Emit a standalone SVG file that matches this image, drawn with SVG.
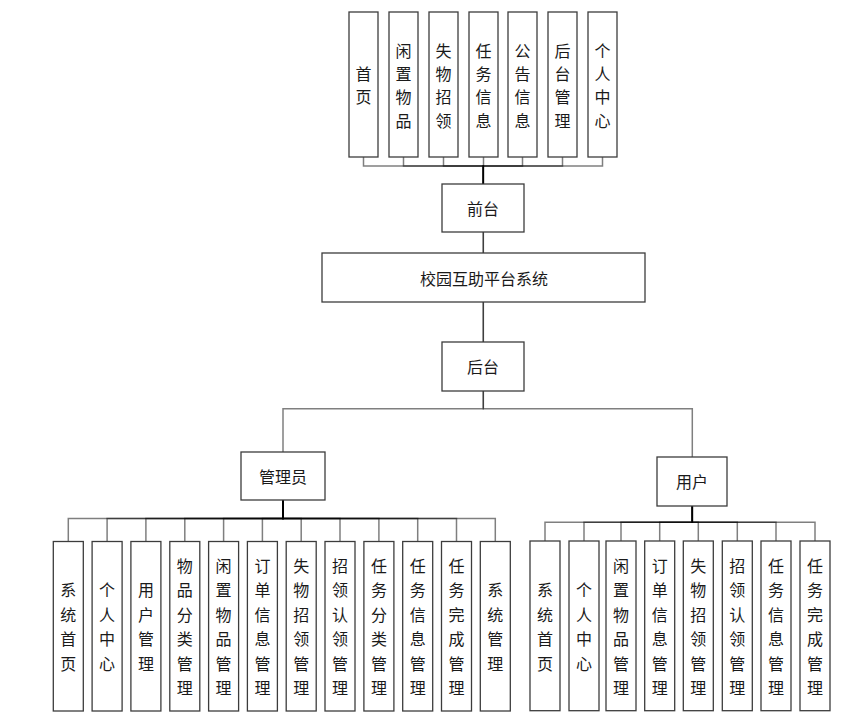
<svg xmlns="http://www.w3.org/2000/svg" width="862" height="728" viewBox="0 0 862 728">
<style>
.box{fill:#fff;stroke:#3c3c3c;stroke-width:1.3}
.t{font-family:"Noto Sans CJK SC","Noto Sans",sans-serif;font-size:16px;fill:#1a1a1a;text-anchor:middle;dominant-baseline:central}
.c{fill:none;stroke:#000;stroke-opacity:0.5;stroke-width:1.5}
</style>
<rect width="862" height="728" fill="#fff"/>
<g id="connectors">
<path class="c" d="M363.5,157V166H483.3V184"/>
<path class="c" d="M403.5,157V166H483.3V184"/>
<path class="c" d="M443.5,157V166H483.3V184"/>
<path class="c" d="M483.5,157V166H483.3V184"/>
<path class="c" d="M522.5,157V166H483.3V184"/>
<path class="c" d="M562.5,157V166H483.3V184"/>
<path class="c" d="M602.5,157V166H483.3V184"/>
<path class="c" d="M483.3,232V253"/>
<path class="c" d="M483.3,232V253"/>
<path class="c" d="M483.3,302V342"/>
<path class="c" d="M483.3,302V342"/>
<path class="c" d="M483.3,391V408.8H283V452"/>
<path class="c" d="M483.3,391V408.8H692.3V457"/>
<path class="c" d="M283,500.3V518.5H68.3V541.5"/>
<path class="c" d="M283,500.3V518.5H107.1V541.5"/>
<path class="c" d="M283,500.3V518.5H145.9V541.5"/>
<path class="c" d="M283,500.3V518.5H184.8V541.5"/>
<path class="c" d="M283,500.3V518.5H223.6V541.5"/>
<path class="c" d="M283,500.3V518.5H262.4V541.5"/>
<path class="c" d="M283,500.3V518.5H301.2V541.5"/>
<path class="c" d="M283,500.3V518.5H340.0V541.5"/>
<path class="c" d="M283,500.3V518.5H378.9V541.5"/>
<path class="c" d="M283,500.3V518.5H417.7V541.5"/>
<path class="c" d="M283,500.3V518.5H456.5V541.5"/>
<path class="c" d="M283,500.3V518.5H495.3V541.5"/>
<path class="c" d="M692.3,506V522.3H545V541"/>
<path class="c" d="M692.3,506V522.3H584V541"/>
<path class="c" d="M692.3,506V522.3H621V541"/>
<path class="c" d="M692.3,506V522.3H659.7V541"/>
<path class="c" d="M692.3,506V522.3H698.3V541"/>
<path class="c" d="M692.3,506V522.3H737.3V541"/>
<path class="c" d="M692.3,506V522.3H776V541"/>
<path class="c" d="M692.3,506V522.3H815V541"/>
</g>
<g id="top-nodes">
<g id="n-shouye"><rect class="box" x="349" y="12" width="29" height="145"/><text class="t"><tspan x="363.5" y="72.8">首</tspan><tspan x="363.5" y="96.2">页</tspan></text></g>
<g id="n-xianzhi"><rect class="box" x="389" y="12" width="29" height="145"/><text class="t"><tspan x="403.5" y="49.5">闲</tspan><tspan x="403.5" y="72.8">置</tspan><tspan x="403.5" y="96.2">物</tspan><tspan x="403.5" y="119.5">品</tspan></text></g>
<g id="n-shiwu"><rect class="box" x="429" y="12" width="29" height="145"/><text class="t"><tspan x="443.5" y="49.5">失</tspan><tspan x="443.5" y="72.8">物</tspan><tspan x="443.5" y="96.2">招</tspan><tspan x="443.5" y="119.5">领</tspan></text></g>
<g id="n-renwu"><rect class="box" x="469" y="12" width="29" height="145"/><text class="t"><tspan x="483.5" y="49.5">任</tspan><tspan x="483.5" y="72.8">务</tspan><tspan x="483.5" y="96.2">信</tspan><tspan x="483.5" y="119.5">息</tspan></text></g>
<g id="n-gonggao"><rect class="box" x="508" y="12" width="29" height="145"/><text class="t"><tspan x="522.5" y="49.5">公</tspan><tspan x="522.5" y="72.8">告</tspan><tspan x="522.5" y="96.2">信</tspan><tspan x="522.5" y="119.5">息</tspan></text></g>
<g id="n-houtaiguanli"><rect class="box" x="548" y="12" width="29" height="145"/><text class="t"><tspan x="562.5" y="49.5">后</tspan><tspan x="562.5" y="72.8">台</tspan><tspan x="562.5" y="96.2">管</tspan><tspan x="562.5" y="119.5">理</tspan></text></g>
<g id="n-geren"><rect class="box" x="588" y="12" width="29" height="145"/><text class="t"><tspan x="602.5" y="49.5">个</tspan><tspan x="602.5" y="72.8">人</tspan><tspan x="602.5" y="96.2">中</tspan><tspan x="602.5" y="119.5">心</tspan></text></g>
</g>
<g id="n-qiantai"><rect class="box" x="442" y="184" width="82" height="48"/><text class="t" x="483" y="208">前台</text></g>
<g id="n-system"><rect class="box" x="322" y="253" width="323" height="49"/><text class="t" x="484" y="278">校园互助平台系统</text></g>
<g id="n-houtai"><rect class="box" x="442" y="342" width="82" height="49"/><text class="t" x="483" y="366">后台</text></g>
<g id="n-admin"><rect class="box" x="241" y="452" width="84" height="48"/><text class="t" x="283" y="476">管理员</text></g>
<g id="n-user"><rect class="box" x="657" y="457" width="70" height="49"/><text class="t" x="692" y="481">用户</text></g>
<g id="admin-nodes">
<g id="a1"><rect class="box" x="53.3" y="541.5" width="30" height="169.5"/><text class="t"><tspan x="68.3" y="589.4">系</tspan><tspan x="68.3" y="613.8">统</tspan><tspan x="68.3" y="638.2">首</tspan><tspan x="68.3" y="662.6">页</tspan></text></g>
<g id="a2"><rect class="box" x="92.1" y="541.5" width="30" height="169.5"/><text class="t"><tspan x="107.1" y="589.4">个</tspan><tspan x="107.1" y="613.8">人</tspan><tspan x="107.1" y="638.2">中</tspan><tspan x="107.1" y="662.6">心</tspan></text></g>
<g id="a3"><rect class="box" x="130.9" y="541.5" width="30" height="169.5"/><text class="t"><tspan x="145.9" y="589.4">用</tspan><tspan x="145.9" y="613.8">户</tspan><tspan x="145.9" y="638.2">管</tspan><tspan x="145.9" y="662.6">理</tspan></text></g>
<g id="a4"><rect class="box" x="169.8" y="541.5" width="30" height="169.5"/><text class="t"><tspan x="184.8" y="565">物</tspan><tspan x="184.8" y="589.4">品</tspan><tspan x="184.8" y="613.8">分</tspan><tspan x="184.8" y="638.2">类</tspan><tspan x="184.8" y="662.6">管</tspan><tspan x="184.8" y="687">理</tspan></text></g>
<g id="a5"><rect class="box" x="208.6" y="541.5" width="30" height="169.5"/><text class="t"><tspan x="223.6" y="565">闲</tspan><tspan x="223.6" y="589.4">置</tspan><tspan x="223.6" y="613.8">物</tspan><tspan x="223.6" y="638.2">品</tspan><tspan x="223.6" y="662.6">管</tspan><tspan x="223.6" y="687">理</tspan></text></g>
<g id="a6"><rect class="box" x="247.4" y="541.5" width="30" height="169.5"/><text class="t"><tspan x="262.4" y="565">订</tspan><tspan x="262.4" y="589.4">单</tspan><tspan x="262.4" y="613.8">信</tspan><tspan x="262.4" y="638.2">息</tspan><tspan x="262.4" y="662.6">管</tspan><tspan x="262.4" y="687">理</tspan></text></g>
<g id="a7"><rect class="box" x="286.2" y="541.5" width="30" height="169.5"/><text class="t"><tspan x="301.2" y="565">失</tspan><tspan x="301.2" y="589.4">物</tspan><tspan x="301.2" y="613.8">招</tspan><tspan x="301.2" y="638.2">领</tspan><tspan x="301.2" y="662.6">管</tspan><tspan x="301.2" y="687">理</tspan></text></g>
<g id="a8"><rect class="box" x="325" y="541.5" width="30" height="169.5"/><text class="t"><tspan x="340" y="565">招</tspan><tspan x="340" y="589.4">领</tspan><tspan x="340" y="613.8">认</tspan><tspan x="340" y="638.2">领</tspan><tspan x="340" y="662.6">管</tspan><tspan x="340" y="687">理</tspan></text></g>
<g id="a9"><rect class="box" x="363.9" y="541.5" width="30" height="169.5"/><text class="t"><tspan x="378.9" y="565">任</tspan><tspan x="378.9" y="589.4">务</tspan><tspan x="378.9" y="613.8">分</tspan><tspan x="378.9" y="638.2">类</tspan><tspan x="378.9" y="662.6">管</tspan><tspan x="378.9" y="687">理</tspan></text></g>
<g id="a10"><rect class="box" x="402.7" y="541.5" width="30" height="169.5"/><text class="t"><tspan x="417.7" y="565">任</tspan><tspan x="417.7" y="589.4">务</tspan><tspan x="417.7" y="613.8">信</tspan><tspan x="417.7" y="638.2">息</tspan><tspan x="417.7" y="662.6">管</tspan><tspan x="417.7" y="687">理</tspan></text></g>
<g id="a11"><rect class="box" x="441.5" y="541.5" width="30" height="169.5"/><text class="t"><tspan x="456.5" y="565">任</tspan><tspan x="456.5" y="589.4">务</tspan><tspan x="456.5" y="613.8">完</tspan><tspan x="456.5" y="638.2">成</tspan><tspan x="456.5" y="662.6">管</tspan><tspan x="456.5" y="687">理</tspan></text></g>
<g id="a12"><rect class="box" x="480.3" y="541.5" width="30" height="169.5"/><text class="t"><tspan x="495.3" y="589.4">系</tspan><tspan x="495.3" y="613.8">统</tspan><tspan x="495.3" y="638.2">管</tspan><tspan x="495.3" y="662.6">理</tspan></text></g>
</g>
<g id="user-nodes">
<g id="u1"><rect class="box" x="530" y="541" width="30" height="169.7"/><text class="t"><tspan x="545" y="589.4">系</tspan><tspan x="545" y="613.8">统</tspan><tspan x="545" y="638.2">首</tspan><tspan x="545" y="662.6">页</tspan></text></g>
<g id="u2"><rect class="box" x="569" y="541" width="30" height="169.7"/><text class="t"><tspan x="584" y="589.4">个</tspan><tspan x="584" y="613.8">人</tspan><tspan x="584" y="638.2">中</tspan><tspan x="584" y="662.6">心</tspan></text></g>
<g id="u3"><rect class="box" x="606" y="541" width="30" height="169.7"/><text class="t"><tspan x="621" y="565">闲</tspan><tspan x="621" y="589.4">置</tspan><tspan x="621" y="613.8">物</tspan><tspan x="621" y="638.2">品</tspan><tspan x="621" y="662.6">管</tspan><tspan x="621" y="687">理</tspan></text></g>
<g id="u4"><rect class="box" x="644.7" y="541" width="30" height="169.7"/><text class="t"><tspan x="659.7" y="565">订</tspan><tspan x="659.7" y="589.4">单</tspan><tspan x="659.7" y="613.8">信</tspan><tspan x="659.7" y="638.2">息</tspan><tspan x="659.7" y="662.6">管</tspan><tspan x="659.7" y="687">理</tspan></text></g>
<g id="u5"><rect class="box" x="683.3" y="541" width="30" height="169.7"/><text class="t"><tspan x="698.3" y="565">失</tspan><tspan x="698.3" y="589.4">物</tspan><tspan x="698.3" y="613.8">招</tspan><tspan x="698.3" y="638.2">领</tspan><tspan x="698.3" y="662.6">管</tspan><tspan x="698.3" y="687">理</tspan></text></g>
<g id="u6"><rect class="box" x="722.3" y="541" width="30" height="169.7"/><text class="t"><tspan x="737.3" y="565">招</tspan><tspan x="737.3" y="589.4">领</tspan><tspan x="737.3" y="613.8">认</tspan><tspan x="737.3" y="638.2">领</tspan><tspan x="737.3" y="662.6">管</tspan><tspan x="737.3" y="687">理</tspan></text></g>
<g id="u7"><rect class="box" x="761" y="541" width="30" height="169.7"/><text class="t"><tspan x="776" y="565">任</tspan><tspan x="776" y="589.4">务</tspan><tspan x="776" y="613.8">信</tspan><tspan x="776" y="638.2">息</tspan><tspan x="776" y="662.6">管</tspan><tspan x="776" y="687">理</tspan></text></g>
<g id="u8"><rect class="box" x="800" y="541" width="30" height="169.7"/><text class="t"><tspan x="815" y="565">任</tspan><tspan x="815" y="589.4">务</tspan><tspan x="815" y="613.8">完</tspan><tspan x="815" y="638.2">成</tspan><tspan x="815" y="662.6">管</tspan><tspan x="815" y="687">理</tspan></text></g>
</g>
</svg>
